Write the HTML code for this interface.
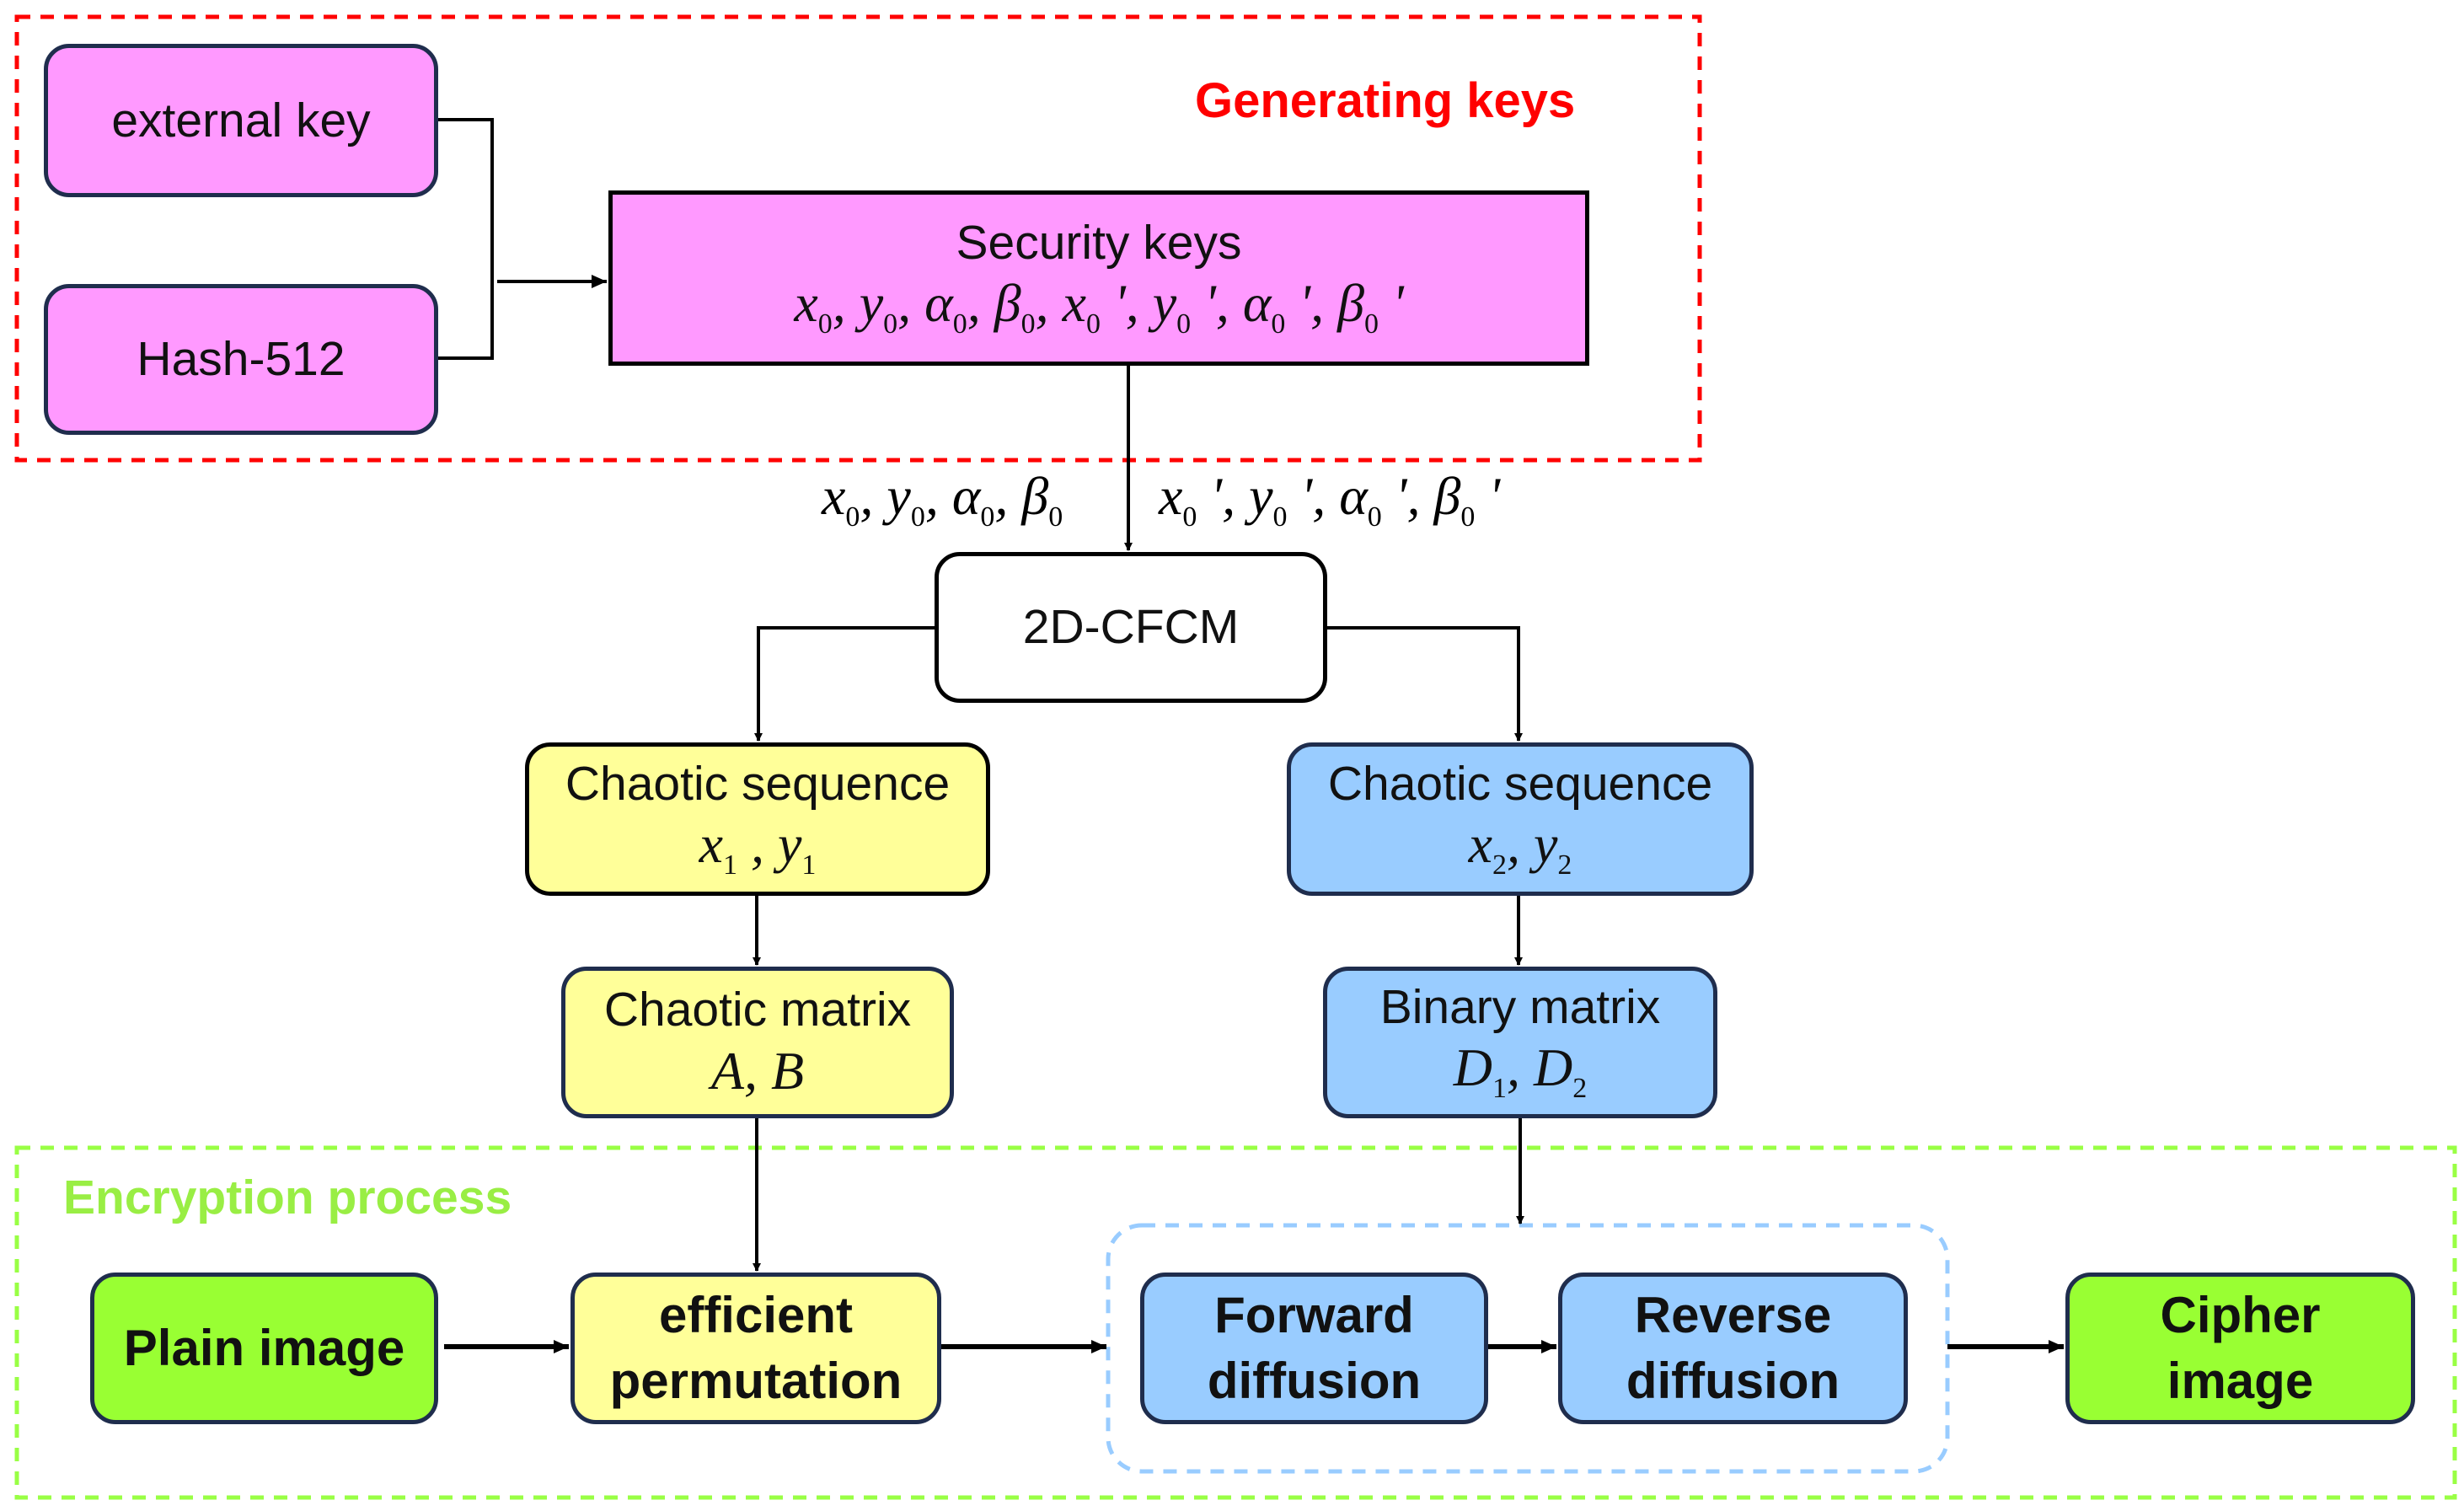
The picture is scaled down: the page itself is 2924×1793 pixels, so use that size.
<!DOCTYPE html>
<html><head><meta charset="utf-8"><style>
body{margin:0;width:2924px;height:1793px;background:#fff;position:relative;overflow:hidden;font-family:"Liberation Sans","DejaVu Sans",sans-serif}
.b{position:absolute;box-sizing:border-box;border:5px solid #1f2d4d;border-radius:30px;display:flex;flex-direction:column;align-items:center;justify-content:center;text-align:center;color:#111;font-size:57px;line-height:1.2}
.m{font-family:"Liberation Serif",serif;font-style:italic;font-size:64px}
.m sub{font-size:34px;font-style:normal}
.bold{font-weight:bold;font-size:60px;line-height:1.3}
.t{position:absolute}
</style></head><body>
<svg width="2924" height="1793" style="position:absolute;left:0;top:0">
<defs><marker id="a" markerWidth="10" markerHeight="10" refX="9" refY="5" orient="auto" markerUnits="userSpaceOnUse"><path d="M0,0 L10,5 L0,10z" fill="#000"/></marker>
<marker id="A" markerWidth="20" markerHeight="20" refX="18" refY="10" orient="auto" markerUnits="userSpaceOnUse"><path d="M0,2 L18,10 L0,18z" fill="#000"/></marker></defs>
<rect x="20" y="20" width="1997" height="526" fill="none" stroke="#f00" stroke-width="5" stroke-dasharray="16,12"/>
<rect x="20" y="1362" width="2893" height="415" fill="none" stroke="#99ff44" stroke-width="5" stroke-dasharray="16,12"/>
<rect x="1315" y="1454" width="996" height="292" rx="40" fill="none" stroke="#99ccff" stroke-width="5" stroke-dasharray="16,12"/>
<g stroke="#000" stroke-width="4" fill="none">
<polyline points="520,142 584,142 584,425 520,425"/>
<line x1="590" y1="334" x2="720" y2="334" marker-end="url(#A)"/>
<line x1="1339" y1="434" x2="1339" y2="653" marker-end="url(#a)"/>
<polyline points="1109,745 900,745 900,879" marker-end="url(#a)"/>
<polyline points="1575,745 1802,745 1802,879" marker-end="url(#a)"/>
<line x1="898" y1="1063" x2="898" y2="1145" marker-end="url(#a)"/>
<line x1="1802" y1="1063" x2="1802" y2="1145" marker-end="url(#a)"/>
<line x1="898" y1="1327" x2="898" y2="1508" marker-end="url(#a)"/>
<line x1="1804" y1="1327" x2="1804" y2="1452" marker-end="url(#a)"/>
</g>
<g stroke="#000" stroke-width="6">
<line x1="527" y1="1598" x2="675" y2="1598" marker-end="url(#A)"/>
<line x1="1117" y1="1598" x2="1313" y2="1598" marker-end="url(#A)"/>
<line x1="1766" y1="1598" x2="1847" y2="1598" marker-end="url(#A)"/>
<line x1="2311" y1="1598" x2="2449" y2="1598" marker-end="url(#A)"/>
</g>
</svg>
<div class="t" style="left:1418px;top:86px;color:#f00;font-weight:bold;font-size:58px">Generating keys</div>
<div class="t" style="left:75px;top:1388px;color:#99ee44;font-weight:bold;font-size:57px">Encryption process</div>
<div class="b" style="left:52px;top:52px;width:468px;height:182px;background:#ff99ff">external key</div>
<div class="b" style="left:52px;top:337px;width:468px;height:179px;background:#ff99ff">Hash-512</div>
<div class="b" style="left:722px;top:226px;width:1164px;height:208px;background:#ff99ff;border-radius:0;border-color:#000">Security keys<div class="m">x<sub>0</sub>, y<sub>0</sub>, α<sub>0</sub>, β<sub>0</sub>, x<sub>0</sub> ', y<sub>0</sub> ', α<sub>0</sub> ', β<sub>0</sub> '</div></div>
<div class="t m" style="left:975px;top:552px">x<sub>0</sub>, y<sub>0</sub>, α<sub>0</sub>, β<sub>0</sub></div>
<div class="t m" style="left:1375px;top:552px">x<sub>0</sub> ', y<sub>0</sub> ', α<sub>0</sub> ', β<sub>0</sub> '</div>
<div class="b" style="left:1109px;top:655px;width:466px;height:179px;background:#fff;border-color:#000">2D-CFCM</div>
<div class="b" style="left:623px;top:881px;width:552px;height:182px;background:#ffff99;border-color:#000">Chaotic sequence<div class="m">x<sub>1</sub> , y<sub>1</sub></div></div>
<div class="b" style="left:1527px;top:881px;width:554px;height:182px;background:#99ccff">Chaotic sequence<div class="m">x<sub>2</sub>, y<sub>2</sub></div></div>
<div class="b" style="left:666px;top:1147px;width:466px;height:180px;background:#ffff99">Chaotic matrix<div class="m">A, B</div></div>
<div class="b" style="left:1570px;top:1147px;width:468px;height:180px;background:#99ccff">Binary matrix<div class="m">D<sub>1</sub>, D<sub>2</sub></div></div>
<div class="b bold" style="left:107px;top:1510px;width:413px;height:180px;background:#99ff33">Plain image</div>
<div class="b bold" style="left:677px;top:1510px;width:440px;height:180px;background:#ffff99">efficient<br>permutation</div>
<div class="b bold" style="left:1353px;top:1510px;width:413px;height:180px;background:#99ccff">Forward<br>diffusion</div>
<div class="b bold" style="left:1849px;top:1510px;width:415px;height:180px;background:#99ccff">Reverse<br>diffusion</div>
<div class="b bold" style="left:2451px;top:1510px;width:415px;height:180px;background:#99ff33">Cipher<br>image</div>
</body></html>
